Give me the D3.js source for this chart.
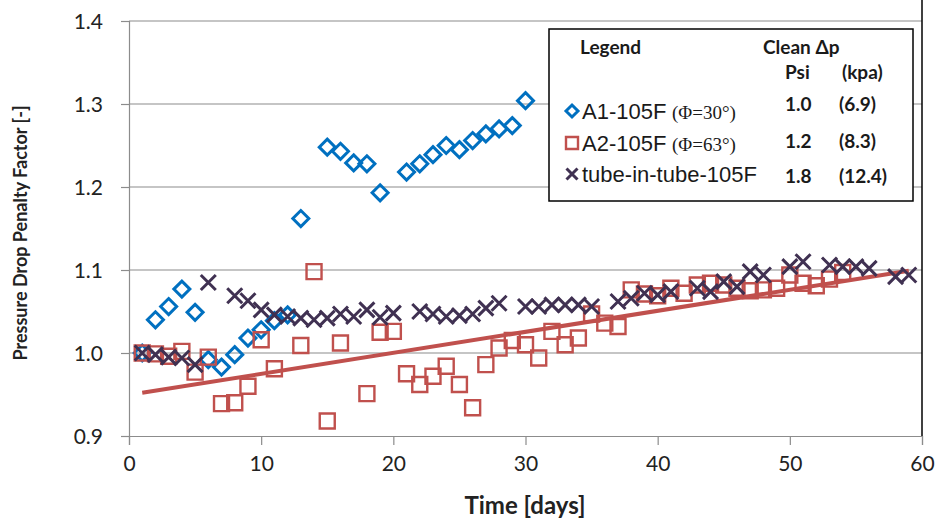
<!DOCTYPE html>
<html>
<head>
<meta charset="utf-8">
<script src="https://cdnjs.cloudflare.com/ajax/libs/d3/7.8.5/d3.min.js"></script>
<style>
  body { margin: 0; background: #fff; }
  svg { display: block; }
</style>
</head>
<body>
<div class="svg-container"></div>
<script>
// A1-105F (blue diamonds)
var a1Days = [1, 2, 3, 4, 5, 6, 7, 8, 9, 10, 11, 12, 13, 15, 16, 17, 18, 19,
  21, 22, 23, 24, 25, 26, 27, 28, 29, 30];
var a1Values = [1.0, 1.04, 1.056, 1.077, 1.049, 0.992, 0.983, 0.998, 1.018, 1.028, 1.039, 1.046, 1.162,
  1.248, 1.243, 1.229, 1.228, 1.193, 1.218, 1.228, 1.239, 1.25, 1.245, 1.256, 1.264, 1.27, 1.274, 1.304];

// A2-105F (red squares)
var a2Days = [1, 2, 3, 4, 5, 6, 7, 8, 9, 10, 11, 13, 14, 15, 16, 18, 19, 20,
  21, 22, 23, 24, 25, 26, 27, 28, 29, 30, 31, 32, 33, 34, 35, 36, 37, 38, 39, 40,
  41, 42, 43, 44, 45, 46, 47, 48, 49, 50, 51, 52, 53, 54];
var a2Values = [1.0, 0.999, 0.996, 1.002, 0.977, 0.995, 0.939, 0.94, 0.96, 1.016, 0.981, 1.009, 1.098, 0.918,
  1.012, 0.951, 1.025, 1.026, 0.975, 0.962, 0.972, 0.984, 0.962, 0.934, 0.986, 1.006, 1.015, 1.01, 0.994,
  1.026, 1.01, 1.018, 1.047, 1.036, 1.032, 1.076, 1.071, 1.069, 1.078, 1.072, 1.082, 1.084, 1.082, 1.078,
  1.075, 1.076, 1.078, 1.094, 1.084, 1.081, 1.089, 1.097];

// tube-in-tube-105F (purple crosses)
var tubeDays = [1, 2, 3, 4, 5, 6, 8, 9, 10, 11, 12, 13, 14, 15, 16, 17, 18, 19, 20,
  22, 23, 24, 25, 26, 27, 28, 30, 31, 32, 33, 34, 35, 37, 38, 39, 40, 41, 43, 44, 45,
  46, 47, 48, 50, 51, 53, 54, 55, 56, 58, 59];
var tubeValues = [1.0, 0.998, 0.995, 0.994, 0.986, 1.085, 1.069, 1.063, 1.052, 1.046, 1.044, 1.042, 1.04,
  1.042, 1.047, 1.044, 1.052, 1.043, 1.048, 1.05, 1.047, 1.044, 1.045, 1.047, 1.054, 1.06, 1.056, 1.056,
  1.058, 1.058, 1.058, 1.056, 1.062, 1.066, 1.072, 1.07, 1.074, 1.078, 1.074, 1.086, 1.08, 1.098, 1.094,
  1.104, 1.11, 1.106, 1.104, 1.104, 1.102, 1.092, 1.094];

// linear trend line of A2
var trendDays = [1, 59];
var trendValues = [0.952, 1.099];

var xTicks = [0, 10, 20, 30, 40, 50, 60];
var yTicks = [0.9, 1.0, 1.1, 1.2, 1.3, 1.4];

var legendNames = ['A1-105F', 'A2-105F', 'tube-in-tube-105F'];
var legendAngles = ['(\u03A6=30\u00B0)', '(\u03A6=63\u00B0)', ''];
var psiValues = ['1.0', '1.2', '1.8'];
var kpaValues = ['(6.9)', '(8.3)', '(12.4)'];

var width = 939;
var height = 518;
var blue = '#0070C0';
var red = '#C0504D';
var purple = '#403152';
var gridGray = '#8c8c8c';

var xScale = d3.scaleLinear().domain([0, 60]).range([129, 922]);
var yScale = d3.scaleLinear().domain([0.9, 1.4]).range([436, 21]);

var svg = d3.select('.svg-container')
  .append('svg')
  .attr('width', width)
  .attr('height', height);

// Gridlines
svg.append('g')
  .selectAll('line')
  .data(yTicks.slice(1))
  .enter()
  .append('line')
  .attr('x1', xScale(0))
  .attr('x2', xScale(60))
  .attr('y1', function(d) { return yScale(d); })
  .attr('y2', function(d) { return yScale(d); })
  .attr('stroke', gridGray)
  .attr('stroke-width', 1.2);

// Axes
var yAxis = svg.append('g')
  .attr('transform', 'translate(' + xScale(0) + ',0)')
  .call(d3.axisLeft(yScale).tickValues(yTicks).tickFormat(d3.format('.1f')).tickSize(8).tickPadding(18));

var xAxis = svg.append('g')
  .attr('transform', 'translate(0,' + yScale(0.9) + ')')
  .call(d3.axisBottom(xScale).tickValues(xTicks).tickSize(9).tickPadding(11));

[xAxis, yAxis].forEach(function(ax) {
  ax.selectAll('path, line').attr('stroke', gridGray).attr('stroke-width', 1.2);
  ax.selectAll('text')
    .attr('fill', '#222')
    .style('font-family', 'Lato, sans-serif')
    .style('font-size', '21px');
});
yAxis.selectAll('text').attr('dy', '0.36em');

// Right border of the plot
svg.append('line')
  .attr('x1', xScale(60)).attr('x2', xScale(60))
  .attr('y1', 0).attr('y2', yScale(0.9))
  .attr('stroke', '#000')
  .attr('stroke-width', 1.5);

// Axis titles
svg.append('text')
  .attr('x', 525)
  .attr('y', 514)
  .attr('text-anchor', 'middle')
  .style('font-family', 'Lato, sans-serif')
  .style('font-weight', 'bold')
  .style('font-size', '24px')
  .attr('fill', '#222')
  .text('Time [days]');

svg.append('text')
  .attr('transform', 'translate(27,233) rotate(-90)')
  .attr('text-anchor', 'middle')
  .style('font-family', 'Lato, sans-serif')
  .style('font-weight', 'bold')
  .style('font-size', '18px')
  .attr('fill', '#222')
  .text('Pressure Drop Penalty Factor [-]');

// Marker shapes
function diamondPath(r) {
  return 'M0,' + (-r) + 'L' + r + ',0L0,' + r + 'L' + (-r) + ',0Z';
}
function squarePath(r) {
  return 'M' + (-r) + ',' + (-r) + 'H' + r + 'V' + r + 'H' + (-r) + 'Z';
}
function crossPath(r) {
  return 'M' + (-r) + ',' + (-r) + 'L' + r + ',' + r + 'M' + r + ',' + (-r) + 'L' + (-r) + ',' + r;
}

function zip(xs, ys) {
  return xs.map(function(x, i) { return [x, ys[i]]; });
}

function drawSeries(data, path, colour, strokeWidth) {
  svg.append('g')
    .selectAll('path')
    .data(data)
    .enter()
    .append('path')
    .attr('transform', function(d) {
      return 'translate(' + xScale(d[0]) + ',' + yScale(d[1]) + ')';
    })
    .attr('d', path)
    .attr('fill', 'none')
    .attr('stroke', colour)
    .attr('stroke-width', strokeWidth);
}

drawSeries(zip(a1Days, a1Values), diamondPath(8), blue, 3);
drawSeries(zip(a2Days, a2Values), squarePath(7.5), red, 2.4);

// Trend line
var line = d3.line()
  .x(function(d) { return xScale(d[0]); })
  .y(function(d) { return yScale(d[1]); });

svg.append('path')
  .datum(zip(trendDays, trendValues))
  .attr('d', line)
  .attr('fill', 'none')
  .attr('stroke', red)
  .attr('stroke-width', 4);

drawSeries(zip(tubeDays, tubeValues), crossPath(7.5), purple, 3);

// Legend
var legend = svg.append('g');
legend.append('rect')
  .attr('x', 549).attr('y', 29)
  .attr('width', 364).attr('height', 172)
  .attr('fill', '#fff')
  .attr('stroke', '#000')
  .attr('stroke-width', 1.5);

function legendText(x, y, txt, size, weight, family) {
  legend.append('text')
    .attr('x', x).attr('y', y)
    .style('font-family', family || 'Lato, sans-serif')
    .style('font-size', size + 'px')
    .style('font-weight', weight || 'bold')
    .attr('fill', '#1a1a1a')
    .text(txt);
}

legendText(580, 54, 'Legend', 19);
legendText(763, 54, 'Clean \u0394p', 19);
legendText(785, 79, 'Psi', 19);
legendText(842, 79, '(kpa)', 19);

var rowY = [119, 151, 182];
var valY = [111, 148, 183];
var legendShapes = [diamondPath(6), squarePath(6), crossPath(5.5)];
var legendColours = [blue, red, purple];
var legendStrokes = [3, 2.4, 3];

legendNames.forEach(function(name, i) {
  legend.append('path')
    .attr('transform', 'translate(572,' + (rowY[i] - 8) + ')')
    .attr('d', legendShapes[i])
    .attr('fill', 'none')
    .attr('stroke', legendColours[i])
    .attr('stroke-width', legendStrokes[i]);
  legendText(582, rowY[i], name, 22, 'normal', '"Liberation Sans", Arial, sans-serif');
  if (legendAngles[i]) {
    legendText(672, rowY[i], legendAngles[i], 19, 'normal', '"Liberation Serif", serif');
  }
  legendText(785, valY[i], psiValues[i], 19);
  legendText(839, valY[i], kpaValues[i], 19);
});
</script>
</body>
</html>
